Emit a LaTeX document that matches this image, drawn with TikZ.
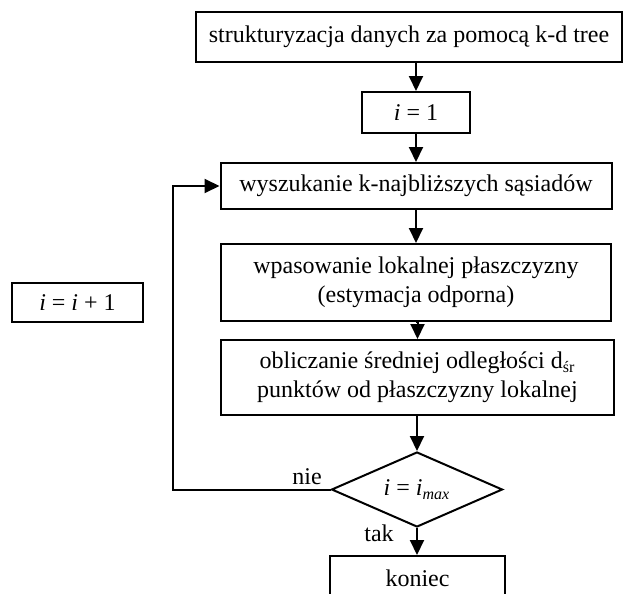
\documentclass[tikz,border=0pt]{standalone}
\usepackage{fontspec}
\setmainfont{Liberation Serif}
\usetikzlibrary{arrows.meta,shapes.geometric}
\tikzset{
  box/.style={draw, line width=1pt, rectangle, inner sep=0pt, align=center, font=\fontsize{12}{14.5}\selectfont},
  dec/.style={draw, line width=1pt, diamond, inner sep=0pt, aspect=2.28, font=\fontsize{12}{14.5}\selectfont},
  lbl/.style={inner sep=0pt, font=\fontsize{12}{14.5}\selectfont},
  conn/.style={line width=1pt, -{Triangle[width=7pt,length=7.5pt]}},
}
\begin{document}
\begin{tikzpicture}[x=0.5pt,y=-0.5pt]
\useasboundingbox (0,0) rectangle (627,594);
\node[box, minimum width=213pt, minimum height=25pt] (b1) at (409,37) {strukturyzacja danych za pomocą k-d tree};
\node[box, minimum width=54pt, minimum height=20.5pt] (b2) at (416,112.5) {\textit{i} = 1};
\node[box, minimum width=195.5pt, minimum height=23pt] (b3) at (416,186) {wyszukanie k-najbliższych sąsiadów};
\node[box, minimum width=195pt, minimum height=38.5pt] (b4) at (416,282.5) {wpasowanie lokalnej płaszczyzny\\(estymacja odporna)};
\node[box, minimum width=196.5pt, minimum height=37.5pt] (b5) at (417.5,377.5) {obliczanie średniej odległości d\textsubscript{śr}\\punktów od płaszczyzny lokalnej};
\node[dec, minimum width=85.5pt, minimum height=37.5pt] (d) at (417,489.5) {\textit{i} = \textit{i}\textsubscript{\textit{max}}};
\node[box, minimum width=87.5pt, minimum height=30pt, anchor=north] (end) at (417.5,555) {};
\node[lbl] (endt) at (417.5,578) {koniec};
\node[box, minimum width=65.5pt, minimum height=19.5pt] (inc) at (77.5,302.5) {\textit{i} = \textit{i} + 1};
\coordinate (c1) at (173,489.5);
\coordinate (c2) at (173,186);
\draw[conn] (b2.north |- b1.south) -- (b2.north);
\draw[conn] (b2.south) -- (b2.south |- b3.north);
\draw[conn] (b3.south) -- (b4.north);
\draw[conn] (b4.south) -- (b4.south -| b5.north) -- (b5.north);
\draw[conn] (d.north |- b5.south) -- (d.north);
\draw[conn] (d.south) -- (d.south |- end.north);
\draw[conn] (d.west) -- (c1) -- (c2) -- (b3.west);
\node[lbl] (nie) at (307,477) {nie};
\node[lbl] (tak) at (379,533) {tak};
\end{tikzpicture}
\end{document}
